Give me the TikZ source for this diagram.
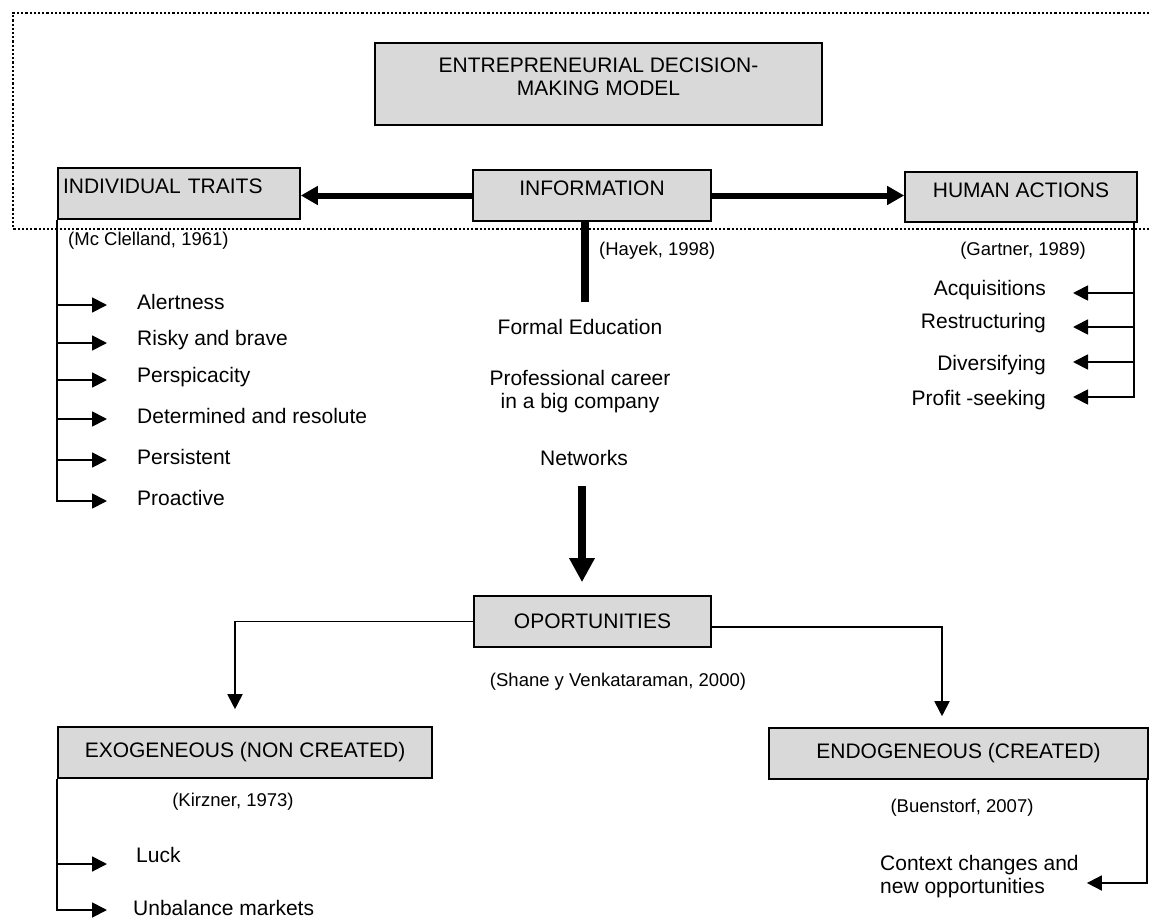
\documentclass[tikz,border=0pt]{standalone}
\usepackage{fontspec}
\setmainfont{Liberation Sans}
\usepackage{tikz}
\usetikzlibrary{arrows.meta}

\definecolor{boxgray}{HTML}{D9D9D9}

\tikzset{
  graybox/.style={draw=black, line width=1.6pt, fill=boxgray, minimum height=51pt, inner sep=0pt},
  raised/.style={text height=11pt, text depth=11pt},
  item/.style={inner sep=0pt},
  cite/.style={inner sep=0pt, font=\fontsize{18.5}{21}\selectfont},
  thinarrow/.style={line width=1.8pt, -{Triangle[length=15pt,width=15pt]}},
  boldarrow/.style={line width=6pt, -{Triangle[length=17pt,width=18pt]}},
  bigdown/.style={line width=8pt, -{Triangle[length=24pt,width=24pt]}},
  boldline/.style={line width=8pt},
  dotframe/.style={line width=2.4pt, dash pattern=on 2.2pt off 2pt}
}

\begin{document}
\begin{tikzpicture}[x=1pt, y=-1pt, font=\fontsize{21}{23}\selectfont]
          \useasboundingbox (0,0) rectangle (1149,918);
          % dotted frame round the top row
          \draw[dotframe] (1149,13) -- (13,13) -- (13,229) -- (1149,229);

          \node[graybox, minimum width=447pt, minimum height=82pt] (modelbox) at (598.5,84) {};
          \node[align=center, inner sep=0pt] (model) at (598.5,76.5) {ENTREPRENEURIAL DECISION-\\MAKING MODEL};

          \node[graybox, raised, minimum width=242pt, text width=232pt, align=left, inner xsep=5pt] (traits) at (179,193.5) {INDIVIDUAL TRAITS};
          \node[graybox, raised, minimum width=238pt] (info) at (592,195.5) {INFORMATION};
          \node[graybox, raised, minimum width=232pt, minimum height=50pt] (acts) at (1021,197) {HUMAN ACTIONS};

          \draw[boldarrow] (info.west) -- (info.west -| traits.east);
          \draw[boldarrow] (info.east) -- (info.east -| acts.west);

          \node[cite, anchor=west] (mcc) at (68,241) {(Mc Clelland, 1961)};
          \node[cite, anchor=west] (hayek) at (599,251) {(Hayek, 1998)};
          \node[cite] (gartner) at (1023,251) {(Gartner, 1989)};

          % traits
          \node[item, anchor=west] (alert) at (137,302) {Alertness};
          \node[item, anchor=west] (risky) at (137,340) {Risky and brave};
          \node[item, anchor=west] (persp) at (137,377) {Perspicacity};
          \node[item, anchor=west] (determ) at (137,416) {Determined and resolute};
          \node[item, anchor=west] (persist) at (137,457) {Persistent};
          \node[item, anchor=west] (proact) at (137,498) {Proactive};
          \foreach \n in {alert,risky,persp,determ,persist,proact}
            \draw[thinarrow] (traits.south west) |- ([xshift=-30pt,yshift=-3pt]\n.west);

          % actions
          \node[item, anchor=east] (acq) at (1046,290) {Acquisitions};
          \node[item, anchor=east] (restr) at (1046,323) {Restructuring};
          \node[item, anchor=east] (divers) at (1046,365) {Diversifying};
          \node[item, anchor=east] (profit) at (1046,400) {Profit -seeking};
          \foreach \n/\s in {acq/-3,restr/-4,divers/3,profit/3}
            \draw[thinarrow] ([xshift=-4pt]acts.south east) |- ([xshift=27pt,yshift=\s pt]\n.east);

          % information sources
          \coordinate (infoend) at (585,302);
          \draw[boldline] (info.south -| infoend) -- (infoend);
          \node[item] (edu) at (580,327) {Formal Education};
          \node[item, align=center] (career) at (580,391.5) {Professional career\\in a big company};
          \node[item] (nets) at (584,458) {Networks};

          \node[graybox, minimum width=237pt] (opp) at (592.5,621.5) {OPORTUNITIES};
          \coordinate (netend) at (582,486);
          \draw[bigdown, shorten >=13pt] (netend) -- (netend |- opp.north);
          \node[cite] (shane) at (618,682) {(Shane y Venkataraman, 2000)};

          \node[graybox, minimum width=374pt] (exo) at (245,752.5) {EXOGENEOUS (NON CREATED)};
          \node[graybox, minimum width=379pt] (endo) at (958.5,753.5) {ENDOGENEOUS (CREATED)};
          \draw[thinarrow, shorten >=17pt] (opp.west) -| ([xshift=-10pt]exo.north);
          \draw[thinarrow, shorten >=11pt] ([yshift=-5.5pt]opp.east) -| ([xshift=-16.5pt]endo.north);

          \node[cite] (kirzner) at (233,802) {(Kirzner, 1973)};
          \node[cite] (buen) at (962,808) {(Buenstorf, 2007)};

          \node[item, anchor=west] (luck) at (136,855) {Luck};
          \node[item, anchor=west] (unbal) at (133,908) {Unbalance markets};
          \draw[thinarrow] (exo.south west) |- ([xshift=-29pt,yshift=-9pt]luck.west);
          \draw[thinarrow] (exo.south west) |- ([xshift=-26pt,yshift=-2pt]unbal.west);

          \node[item, anchor=west, align=left] (ctx) at (880,877) {Context changes and\\new opportunities};
          \draw[thinarrow] ([xshift=-1.5pt]endo.south east) |- ([xshift=8pt,yshift=-6pt]ctx.east);
        \end{tikzpicture}
\end{document}
